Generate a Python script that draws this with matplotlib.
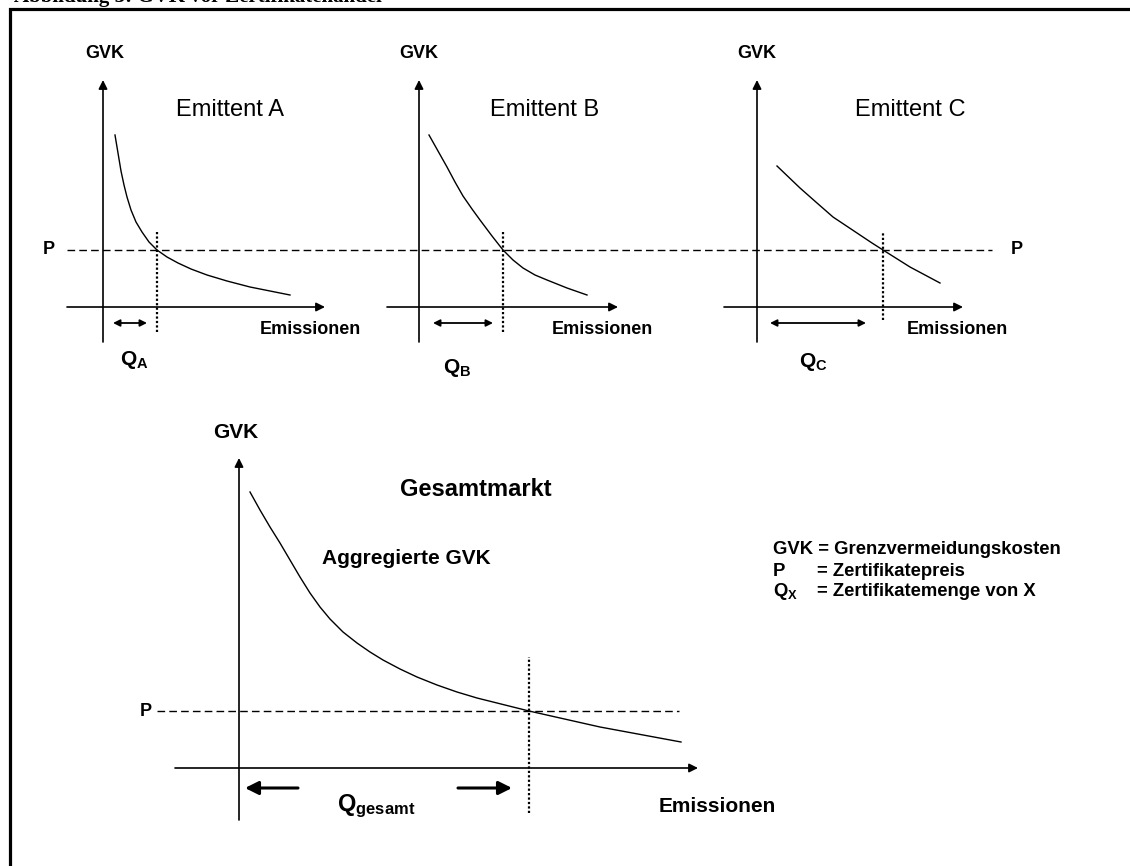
import matplotlib
matplotlib.use("Agg")
import matplotlib.pyplot as plt

plt.rcParams['font.family'] = ['Liberation Sans', 'DejaVu Sans']
plt.rcParams['mathtext.fontset'] = 'custom'
plt.rcParams['mathtext.rm'] = 'Liberation Sans'
plt.rcParams['mathtext.bf'] = 'Liberation Sans:bold'

# Daten (GVK-Kurven; 1 Einheit = 1 Pixel im Original)
p_level = 57

gvk_a_x = [12, 14, 16, 18, 21, 24, 28, 33, 39, 46, 54, 64, 75, 88, 104, 124, 147, 167, 187]
gvk_a_y = [172, 160, 148, 136, 122, 110, 97, 85, 75, 65, 57, 50, 44, 38, 32, 26, 20, 16, 12]
gvk_b_x = [10, 19, 28, 36, 44, 53, 61, 73, 84, 94, 104, 116, 128, 148, 168]
gvk_b_y = [172, 156, 140, 125, 111, 98, 87, 71, 57, 47, 39, 32, 27, 19, 12]
gvk_c_x = [20, 43, 60, 76, 103, 115, 126, 153, 183]
gvk_c_y = [141, 119, 104, 90, 72, 64, 57, 40, 24]
gvk_ges_x = [11, 21, 31, 41, 51, 61, 71, 81, 91, 104, 118, 131, 144, 161, 178,
             198, 218, 238, 258, 290, 361, 442]
gvk_ges_y = [276, 258, 241, 225, 208, 191, 175, 161, 149, 136, 125, 116, 108, 99, 91,
             83, 76, 70, 65, 57, 41, 26]

q_a, q_b, q_c, q_ges = 54, 84, 126, 290
emitter_names = ["Emittent A", "Emittent B", "Emittent C"]
q_labels = [r"$\mathbf{Q_{A}}$", r"$\mathbf{Q_{B}}$", r"$\mathbf{Q_{C}}$"]

W, H = 1130, 866
fig = plt.figure(figsize=(W / 100, H / 100), dpi=100)

# Hintergrund-Achse in Pixelkoordinaten (Rahmen, Legende)
ax0 = fig.add_axes([0, 0, 1, 1])
ax0.set_xlim(0, W)
ax0.set_ylim(H, 0)
ax0.axis('off')
ax0.plot([10, 10, W], [H, 9, 9], color='black', lw=2.3, solid_joinstyle='miter')
# abgeschnittene Überschrift (im Original nur unterer Rand sichtbar)
ax0.text(14, 2, "Abbildung 3: GVK vor Zertifikatehandel", fontsize=15,
         fontweight='bold', family='Liberation Serif', ha='left', va='baseline')

axis_arrow = dict(arrowstyle='-|>', mutation_scale=13, lw=1.2, color='black',
                  shrinkA=0, shrinkB=0)
small_double = dict(arrowstyle='<|-|>', mutation_scale=10, lw=1.3, color='black',
                    shrinkA=0, shrinkB=0)
big_arrow = dict(arrowstyle='-|>', mutation_scale=20, lw=2.2, color='black',
                 shrinkA=0, shrinkB=0)
dash_style = (0, (5.5, 3))
dot_style = (0, (1, 1))


def panel(ox, oy, left, right, bottom, top):
    """Achse mit Ursprung bei Pixel (ox, oy), 1 Einheit = 1 Pixel"""
    ax = fig.add_axes([(ox + left) / W, (H - oy + bottom) / H,
                       (right - left) / W, (top - bottom) / H])
    ax.set_xlim(left, right)
    ax.set_ylim(bottom, top)
    ax.axis('off')
    return ax


# obere drei Emittenten
origins = [103, 419, 757]
x_axis_start = [-36, -32, -33]
x_axis_end = [222, 199, 206]
curves = [(gvk_a_x, gvk_a_y), (gvk_b_x, gvk_b_y), (gvk_c_x, gvk_c_y)]
qs = [q_a, q_b, q_c]
arrow_span = [(10, 44), (14, 74), (13, 109)]
dot_bottom = [-25, -25, -13]
title_x = [127, 126, 153]
emis_x = [207, 183, 200]
q_pos = [(17, -53), (24, -61), (42, -55)]

for i in range(3):
    ox = origins[i]
    ax = panel(ox, 307, -60, 250, -80, 270)
    ax.annotate('', xy=(0, 227), xytext=(0, -35), arrowprops=axis_arrow)
    ax.annotate('', xy=(x_axis_end[i], 0), xytext=(x_axis_start[i], 0), arrowprops=axis_arrow)
    ax.plot(curves[i][0], curves[i][1], color='black', lw=1.0)
    ax.plot([qs[i], qs[i]], [dot_bottom[i], 75], color='black', lw=1.6, ls=dot_style)
    ax.annotate('', xy=(arrow_span[i][1], -16), xytext=(arrow_span[i][0], -16),
                arrowprops=small_double)
    ax.text(2 if i == 0 else 0, 254, "GVK", fontsize=13, fontweight='bold',
            ha='center', va='center')
    ax.text(title_x[i], 197, emitter_names[i], fontsize=17, ha='center', va='center')
    ax.text(emis_x[i], -22, "Emissionen", fontsize=13, fontweight='bold',
            ha='center', va='center')
    ax.text(q_pos[i][0], q_pos[i][1], q_labels[i], fontsize=15, ha='left', va='center')
    if i == 0:
        # Preislinie über alle drei Diagramme
        ax.plot([-36, 889], [p_level, p_level], color='black', lw=1.0, ls=dash_style,
                clip_on=False)
        ax.text(-60, p_level, "P", fontsize=13, fontweight='bold', ha='left', va='center')
    if i == 2:
        ax.text(254, p_level, "P", fontsize=13, fontweight='bold', ha='left', va='center',
                clip_on=False)

# Gesamtmarkt
axg = panel(239, 768, -110, 520, -90, 350)
axg.annotate('', xy=(0, 310), xytext=(0, -52), arrowprops=axis_arrow)
axg.annotate('', xy=(459, 0), xytext=(-64, 0), arrowprops=axis_arrow)
axg.plot(gvk_ges_x, gvk_ges_y, color='black', lw=1.0)
axg.plot([-82, 440], [p_level, p_level], color='black', lw=1.0, ls=dash_style)
axg.plot([q_ges, q_ges], [-45, 111], color='black', lw=1.6, ls=dot_style)
axg.annotate('', xy=(6, -20), xytext=(59, -20), arrowprops=big_arrow)
axg.annotate('', xy=(273, -20), xytext=(219, -20), arrowprops=big_arrow)
axg.text(-3, 335, "GVK", fontsize=15, fontweight='bold', ha='center', va='center')
axg.text(237, 278, "Gesamtmarkt", fontsize=17, fontweight='bold', ha='center', va='center')
axg.text(167, 209, "Aggregierte GVK", fontsize=15, fontweight='bold', ha='center', va='center')
axg.text(98, -38, r"$\mathbf{Q_{gesamt}}$", fontsize=17, ha='left', va='center')
axg.text(478, -38, "Emissionen", fontsize=15, fontweight='bold', ha='center', va='center')
axg.text(-99, p_level, "P", fontsize=13, fontweight='bold', ha='left', va='center')

# Legende
leg_y = [549, 571, 592]
ax0.text(773, leg_y[0], "GVK = Grenzvermeidungskosten", fontsize=13.3, fontweight='bold',
         va='center')
ax0.text(773, leg_y[1], "P", fontsize=13.3, fontweight='bold', va='center')
ax0.text(817, leg_y[1], "= Zertifikatepreis", fontsize=13.3, fontweight='bold', va='center')
ax0.text(773, leg_y[2], r"$\mathbf{Q_{X}}$", fontsize=13.3, va='center')
ax0.text(817, leg_y[2], "= Zertifikatemenge von X", fontsize=13.3, fontweight='bold',
         va='center')

fig.savefig("out.png", dpi=100)
